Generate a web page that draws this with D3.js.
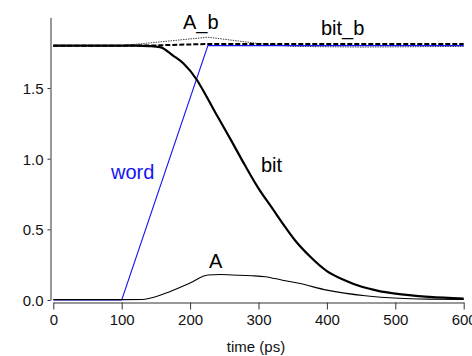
<!DOCTYPE html>
<html>
<head>
<meta charset="utf-8">
<script src="https://cdn.jsdelivr.net/npm/d3@7"></script>
<style>
  html, body { margin: 0; padding: 0; background: #fff; }
  svg { display: block; font-family: "Liberation Sans", Arial, sans-serif; }
</style>
</head>
<body>
<svg id="chart" width="472" height="356"></svg>
<script>
// Transient waveforms (time in ps, voltage in V)
const wordT = [0, 100, 226, 600];
const wordV = [0, 0, 1.80, 1.80];

const bitT = [0, 120, 140, 156, 175, 190, 210, 224, 240, 260, 280, 300, 320, 340, 353, 375, 400, 426, 450, 475, 500, 550, 600];
const bitV = [1.80, 1.80, 1.797, 1.79, 1.73, 1.675, 1.557, 1.44, 1.30, 1.13, 0.955, 0.79, 0.65, 0.51, 0.425, 0.31, 0.205, 0.14, 0.095, 0.065, 0.045, 0.022, 0.01];

const bitbT = [0, 100, 150, 226, 600];
const bitbV = [1.80, 1.80, 1.802, 1.812, 1.812];

const aT = [0, 100, 130, 141, 171, 200, 226, 244, 261, 290, 310, 335, 359, 400, 456, 505, 550, 600];
const aV = [0.003, 0.003, 0.004, 0.012, 0.06, 0.12, 0.177, 0.18, 0.177, 0.172, 0.165, 0.14, 0.118, 0.07, 0.03, 0.012, 0.006, 0.004];

const abT = [0, 100, 226, 300, 350, 450, 600];
const abV = [1.80, 1.80, 1.86, 1.815, 1.795, 1.79, 1.795];

const xTicks = [0, 100, 200, 300, 400, 500, 600];
const yTicks = [0, 0.5, 1.0, 1.5];

const svg = d3.select("#chart");

const x = d3.scaleLinear().domain([0, 600]).range([53.3, 463.7]);
const y = d3.scaleLinear().domain([0, 2]).range([300, 17.4]);

// Axes
const xAxis = svg.append("g")
  .attr("transform", "translate(0,302.5)")
  .call(d3.axisBottom(x).tickValues(xTicks).tickFormat(d3.format("d"))
    .tickSize(7).tickSizeOuter(0).tickPadding(5));

const yAxis = svg.append("g")
  .attr("transform", "translate(50.5,0)")
  .call(d3.axisLeft(y).tickValues(yTicks).tickFormat(d3.format(".1f"))
    .tickSize(3).tickSizeOuter(0).tickPadding(4));

[xAxis, yAxis].forEach(g => {
  g.select(".domain").attr("stroke", "#333").attr("stroke-width", 1);
  g.selectAll(".tick line").attr("stroke", "#333");
  g.selectAll(".tick text")
    .attr("fill", "#111")
    .style("font-size", "15px")
    .style("font-family", "'Liberation Sans', Arial, sans-serif");
});
yAxis.selectAll(".tick text").attr("dy", "0.36em");

svg.append("text")
  .attr("x", 256).attr("y", 352)
  .attr("text-anchor", "middle")
  .style("font-size", "15px")
  .attr("fill", "#111")
  .text("time (ps)");

// Traces
const zip = (t, v) => t.map((d, i) => [d, v[i]]);
const lineLin = d3.line().x(d => x(d[0])).y(d => y(d[1]));
const lineSmooth = d3.line().x(d => x(d[0])).y(d => y(d[1])).curve(d3.curveMonotoneX);

svg.append("path").datum(zip(abT, abV))
  .attr("d", lineLin).attr("fill", "none")
  .attr("stroke", "#444").attr("stroke-width", 1).attr("stroke-dasharray", "1.5,1");

svg.append("path").datum(zip(wordT, wordV))
  .attr("d", lineLin).attr("fill", "none")
  .attr("stroke", "#1414f0").attr("stroke-width", 1.1);

svg.append("path").datum(zip(bitbT, bitbV))
  .attr("d", lineLin).attr("fill", "none")
  .attr("stroke", "#000").attr("stroke-width", 2).attr("stroke-dasharray", "5,2");

svg.append("path").datum(zip(aT, aV))
  .attr("d", lineSmooth).attr("fill", "none")
  .attr("stroke", "#000").attr("stroke-width", 1.1);

svg.append("path").datum(zip(bitT, bitV))
  .attr("d", lineSmooth).attr("fill", "none")
  .attr("stroke", "#000").attr("stroke-width", 2.2);

// Trace labels
const labels = [
  { text: "A_b", x: 183, y: 29, color: "#000" },
  { text: "bit_b", x: 321, y: 35, color: "#000" },
  { text: "word", x: 111, y: 179, color: "#1414f0" },
  { text: "bit", x: 261, y: 172, color: "#000" },
  { text: "A", x: 209, y: 268, color: "#000" }
];
svg.selectAll("text.lbl").data(labels).enter().append("text")
  .attr("class", "lbl")
  .attr("x", d => d.x).attr("y", d => d.y)
  .attr("fill", d => d.color)
  .style("font-size", "20px")
  .text(d => d.text);
</script>
</body>
</html>
